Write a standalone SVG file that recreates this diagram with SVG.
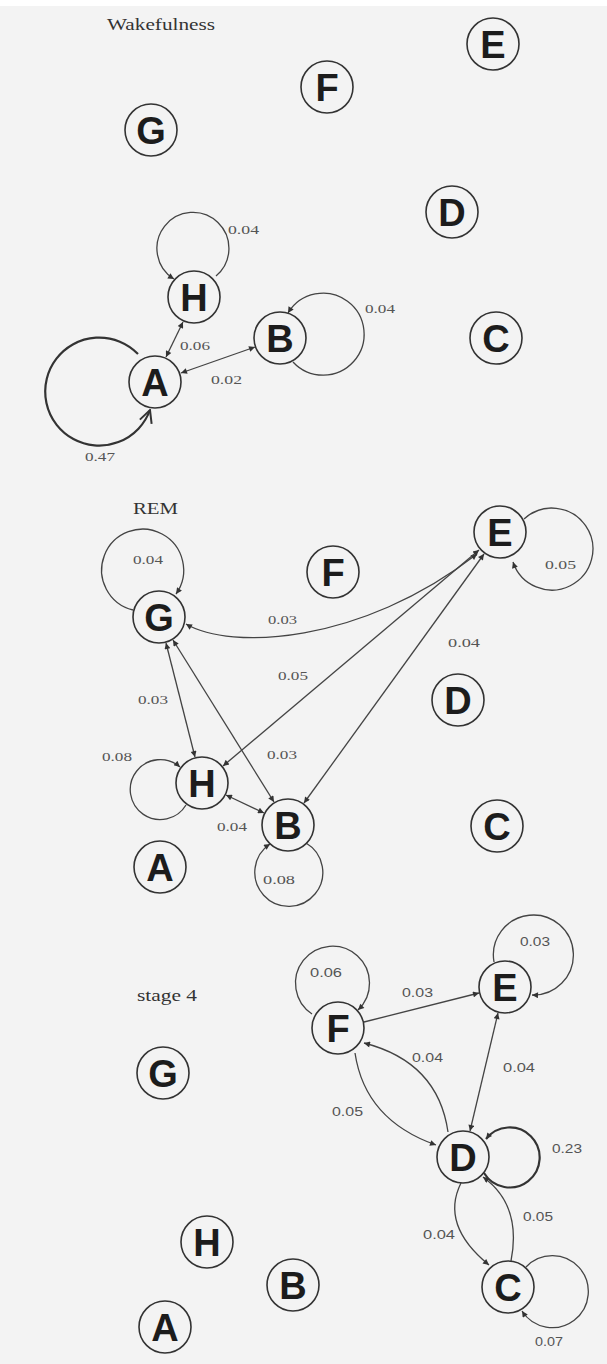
<svg xmlns="http://www.w3.org/2000/svg" width="607" height="1364" viewBox="0 0 607 1364">
  <defs>
    <style>
      .node circle { fill: none; stroke: #333; stroke-width: 1.6; }
      .node text { font-family: "Liberation Sans", Arial, sans-serif; font-size: 38px; font-weight: bold; text-anchor: middle; fill: #1c1c1c; }
      .edge { fill: none; stroke: #444; stroke-width: 1.3; }
      .heavy { stroke-width: 2.2; stroke: #333; }
      .lbl { font-family: "Liberation Serif", "Times New Roman", serif; font-size: 13px; fill: #555; }
      .lbls { font-family: "Liberation Sans", Arial, sans-serif; font-size: 12px; fill: #555; }
      .ttl { font-family: "Liberation Serif", "Times New Roman", serif; font-size: 16px; fill: #333; }
    </style>
    <marker id="ah" viewBox="0 0 10 10" refX="10" refY="5" markerWidth="8" markerHeight="6" orient="auto-start-reverse" markerUnits="userSpaceOnUse">
      <path d="M0,0 L10,5 L0,10 z" fill="#333"/>
    </marker>
    <marker id="vee" viewBox="0 0 12 12" refX="11" refY="6" markerWidth="15" markerHeight="15" orient="auto" markerUnits="userSpaceOnUse">
      <path d="M1,1 L11,6 L1,11" fill="none" stroke="#333" stroke-width="1.6"/>
    </marker>
  </defs>

  <rect x="0" y="0" width="607" height="1364" fill="#f3f3f3"/>
  <rect x="0" y="0" width="607" height="6" fill="#ffffff"/>

  <!-- ===== Wakefulness ===== -->
  <text class="ttl" x="107" y="30" textLength="108" lengthAdjust="spacingAndGlyphs">Wakefulness</text>

  <g id="wake-connectors">
    <path class="edge" d="M216,276 A36,36 0 1 0 174,279" marker-end="url(#ah)"/>
    <path class="edge" d="M293,362 A41,41 0 1 0 288,313" marker-end="url(#ah)"/>
    <path class="edge heavy" d="M138,354 A54,54 0 1 0 150,410" marker-end="url(#vee)"/>
    <line class="edge" x1="166" y1="357" x2="183" y2="322" marker-start="url(#ah)" marker-end="url(#ah)"/>
    <line class="edge" x1="255" y1="347" x2="181" y2="373" marker-start="url(#ah)" marker-end="url(#ah)"/>
    <text class="lbl" x="228" y="234" textLength="31" lengthAdjust="spacingAndGlyphs">0.04</text>
    <text class="lbl" x="365" y="313" textLength="30" lengthAdjust="spacingAndGlyphs">0.04</text>
    <text class="lbl" x="180" y="350" textLength="30" lengthAdjust="spacingAndGlyphs">0.06</text>
    <text class="lbl" x="211" y="384" textLength="31" lengthAdjust="spacingAndGlyphs">0.02</text>
    <text class="lbl" x="85" y="461" textLength="30" lengthAdjust="spacingAndGlyphs">0.47</text>
  </g>

  <g id="wake-E" class="node"><circle cx="493" cy="44" r="26"/><text x="493" y="58">E</text></g>
  <g id="wake-F" class="node"><circle cx="327" cy="87" r="26"/><text x="327" y="101">F</text></g>
  <g id="wake-G" class="node"><circle cx="151" cy="130" r="26"/><text x="151" y="144">G</text></g>
  <g id="wake-D" class="node"><circle cx="452" cy="212" r="26"/><text x="452" y="226">D</text></g>
  <g id="wake-H" class="node"><circle cx="194" cy="297" r="26"/><text x="194" y="311">H</text></g>
  <g id="wake-B" class="node"><circle cx="280" cy="338" r="26"/><text x="280" y="352">B</text></g>
  <g id="wake-C" class="node"><circle cx="496" cy="338" r="26"/><text x="496" y="352">C</text></g>
  <g id="wake-A" class="node"><circle cx="155" cy="382" r="26"/><text x="155" y="396">A</text></g>

  <!-- ===== REM ===== -->
  <text class="ttl" x="133" y="514" textLength="45" lengthAdjust="spacingAndGlyphs">REM</text>

  <g id="rem-connectors">
    <path class="edge" d="M133,610 A41,41 0 1 1 176,594" marker-end="url(#ah)"/>
    <path class="edge" d="M186,624 C230,650 360,645 477,554" marker-start="url(#ah)" marker-end="url(#ah)"/>
    <path class="edge" d="M524,519 A41,41 0 1 1 513,562" marker-end="url(#ah)"/>
    <line class="edge" x1="479" y1="550" x2="223" y2="766" marker-start="url(#ah)" marker-end="url(#ah)"/>
    <line class="edge" x1="484" y1="554" x2="304" y2="803" marker-start="url(#ah)" marker-end="url(#ah)"/>
    <line class="edge" x1="166" y1="643" x2="195" y2="757" marker-start="url(#ah)" marker-end="url(#ah)"/>
    <line class="edge" x1="173" y1="640" x2="274" y2="802" marker-start="url(#ah)" marker-end="url(#ah)"/>
    <line class="edge" x1="226" y1="795" x2="264" y2="813" marker-start="url(#ah)" marker-end="url(#ah)"/>
    <path class="edge" d="M186,805 A30,30 0 1 1 180,767" marker-end="url(#ah)"/>
    <path class="edge" d="M306,843 A34,34 0 1 1 270,844" marker-end="url(#ah)"/>
    <text class="lbl" x="133" y="564" textLength="30" lengthAdjust="spacingAndGlyphs">0.04</text>
    <text class="lbl" x="268" y="624" textLength="29" lengthAdjust="spacingAndGlyphs">0.03</text>
    <text class="lbl" x="545" y="569" textLength="31" lengthAdjust="spacingAndGlyphs">0.05</text>
    <text class="lbl" x="448" y="647" textLength="32" lengthAdjust="spacingAndGlyphs">0.04</text>
    <text class="lbl" x="278" y="680" textLength="30" lengthAdjust="spacingAndGlyphs">0.05</text>
    <text class="lbl" x="138" y="704" textLength="30" lengthAdjust="spacingAndGlyphs">0.03</text>
    <text class="lbl" x="267" y="759" textLength="30" lengthAdjust="spacingAndGlyphs">0.03</text>
    <text class="lbl" x="102" y="761" textLength="30" lengthAdjust="spacingAndGlyphs">0.08</text>
    <text class="lbl" x="217" y="831" textLength="30" lengthAdjust="spacingAndGlyphs">0.04</text>
    <text class="lbl" x="263" y="884" textLength="32" lengthAdjust="spacingAndGlyphs">0.08</text>
  </g>

  <g id="rem-E" class="node"><circle cx="500" cy="532" r="26"/><text x="500" y="546">E</text></g>
  <g id="rem-F" class="node"><circle cx="333" cy="572" r="26"/><text x="333" y="586">F</text></g>
  <g id="rem-G" class="node"><circle cx="159" cy="617" r="26"/><text x="159" y="631">G</text></g>
  <g id="rem-D" class="node"><circle cx="458" cy="700" r="26"/><text x="458" y="714">D</text></g>
  <g id="rem-H" class="node"><circle cx="202" cy="783" r="26"/><text x="202" y="797">H</text></g>
  <g id="rem-B" class="node"><circle cx="288" cy="825" r="26"/><text x="288" y="839">B</text></g>
  <g id="rem-C" class="node"><circle cx="497" cy="826" r="26"/><text x="497" y="840">C</text></g>
  <g id="rem-A" class="node"><circle cx="160" cy="867" r="26"/><text x="160" y="881">A</text></g>

  <!-- ===== stage 4 ===== -->
  <text class="ttl" x="137" y="1001" textLength="60" lengthAdjust="spacingAndGlyphs">stage 4</text>

  <g id="s4-connectors">
    <path class="edge" d="M312,1014 A37,37 0 1 1 358,1010" marker-end="url(#ah)"/>
    <line class="edge" x1="364" y1="1022" x2="479" y2="993" marker-end="url(#ah)"/>
    <path class="edge" d="M494,962 A40,40 0 1 1 532,995" marker-end="url(#ah)"/>
    <line class="edge" x1="498" y1="1013" x2="470" y2="1131" marker-start="url(#ah)" marker-end="url(#ah)"/>
    <path class="edge" d="M448,1132 Q438,1062 364,1043" marker-end="url(#ah)"/>
    <path class="edge" d="M355,1053 Q365,1120 436,1145" marker-end="url(#ah)"/>
    <path class="edge heavy" d="M484,1173 A30,30 0 1 0 486,1139" marker-end="url(#ah)"/>
    <path class="edge" d="M461,1183 Q440,1225 489,1265" marker-end="url(#ah)"/>
    <path class="edge" d="M511,1261 Q522,1205 483,1177" marker-end="url(#ah)"/>
    <path class="edge" d="M526,1267 A36,36 0 1 1 522,1311" marker-end="url(#ah)"/>
    <text class="lbls" x="310" y="977" textLength="32" lengthAdjust="spacingAndGlyphs">0.06</text>
    <text class="lbls" x="402" y="997" textLength="31" lengthAdjust="spacingAndGlyphs">0.03</text>
    <text class="lbls" x="520" y="946" textLength="30" lengthAdjust="spacingAndGlyphs">0.03</text>
    <text class="lbls" x="503" y="1072" textLength="32" lengthAdjust="spacingAndGlyphs">0.04</text>
    <text class="lbls" x="412" y="1062" textLength="31" lengthAdjust="spacingAndGlyphs">0.04</text>
    <text class="lbls" x="332" y="1116" textLength="31" lengthAdjust="spacingAndGlyphs">0.05</text>
    <text class="lbls" x="552" y="1153" textLength="30" lengthAdjust="spacingAndGlyphs">0.23</text>
    <text class="lbls" x="423" y="1239" textLength="32" lengthAdjust="spacingAndGlyphs">0.04</text>
    <text class="lbls" x="523" y="1221" textLength="30" lengthAdjust="spacingAndGlyphs">0.05</text>
    <text class="lbls" x="535" y="1346" textLength="28" lengthAdjust="spacingAndGlyphs">0.07</text>
  </g>

  <g id="s4-E" class="node"><circle cx="505" cy="987" r="26"/><text x="505" y="1001">E</text></g>
  <g id="s4-F" class="node"><circle cx="338" cy="1028" r="26"/><text x="338" y="1042">F</text></g>
  <g id="s4-G" class="node"><circle cx="163" cy="1073" r="26"/><text x="163" y="1087">G</text></g>
  <g id="s4-D" class="node"><circle cx="463" cy="1157" r="26"/><text x="463" y="1171">D</text></g>
  <g id="s4-H" class="node"><circle cx="207" cy="1242" r="26"/><text x="207" y="1256">H</text></g>
  <g id="s4-B" class="node"><circle cx="293" cy="1285" r="26"/><text x="293" y="1299">B</text></g>
  <g id="s4-C" class="node"><circle cx="508" cy="1287" r="26"/><text x="508" y="1301">C</text></g>
  <g id="s4-A" class="node"><circle cx="165" cy="1327" r="26"/><text x="165" y="1341">A</text></g>
</svg>
